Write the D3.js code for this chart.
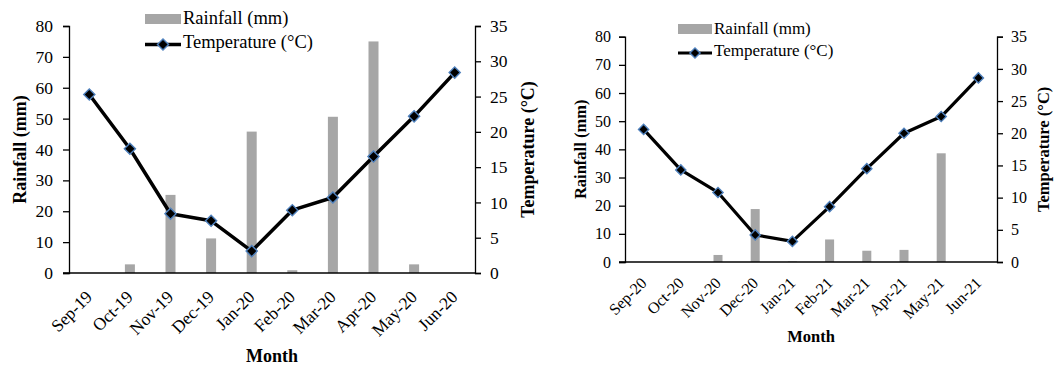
<!DOCTYPE html>
<html>
<head>
<meta charset="utf-8">
<title>Rainfall and temperature</title>
<style>
    html, body { margin: 0; background: #fff; }
    svg text { font-family: "Liberation Serif", "Times New Roman", serif; fill: #000; }
</style>
</head>
<body>
<svg id="chart" width="1054" height="366"></svg>
<script src="https://cdn.jsdelivr.net/npm/d3@7"></script>
<script>
"use strict";

// season 1 (Sep-19 .. Jun-20)
const months1 = ["Sep-19", "Oct-19", "Nov-19", "Dec-19", "Jan-20", "Feb-20", "Mar-20", "Apr-20", "May-20", "Jun-20"];
const rain1 = [0, 2.8, 25.3, 11.2, 45.8, 0.9, 50.6, 75, 2.8, 0];
const temp1 = [25.3, 17.6, 8.4, 7.4, 3.1, 8.9, 10.7, 16.5, 22.2, 28.4];

// season 2 (Sep-20 .. Jun-21)
const months2 = ["Sep-20", "Oct-20", "Nov-20", "Dec-20", "Jan-21", "Feb-21", "Mar-21", "Apr-21", "May-21", "Jun-21"];
const rain2 = [0, 0, 2.5, 18.8, 0.2, 8, 4, 4.3, 38.6, 0];
const temp2 = [20.6, 14.3, 10.8, 4.2, 3.2, 8.6, 14.5, 20, 22.6, 28.6];

const rainTicks = [0, 10, 20, 30, 40, 50, 60, 70, 80];
const tempTicks = [0, 5, 10, 15, 20, 25, 30, 35];

const svg = d3.select("#chart");

function drawChart(months, rain, temp, o) {
    const g = svg.append("g");
    const x = d3.scaleBand().domain(months).range([o.left, o.right]);
    const yRain = d3.scaleLinear().domain([0, 80]).range([o.bottom, o.top]);
    const yTemp = d3.scaleLinear().domain([0, 35]).range([o.bottom, o.top]);

    // bars
    g.append("g").selectAll("rect")
        .data(months)
        .join("rect")
        .attr("x", d => x(d) + x.bandwidth() / 2 - o.barW / 2)
        .attr("y", (d, i) => yRain(rain[i]))
        .attr("width", o.barW)
        .attr("height", (d, i) => yRain(0) - yRain(rain[i]))
        .attr("fill", "#a6a6a6");

    // axes
    const left = g.append("g")
        .attr("transform", `translate(${o.left},0)`)
        .call(d3.axisLeft(yRain).tickValues(rainTicks).tickSize(6).tickPadding(o.padL));
    const right = g.append("g")
        .attr("transform", `translate(${o.right},0)`)
        .call(d3.axisRight(yTemp).tickValues(tempTicks).tickSize(6).tickPadding(o.padR));
    [left, right].forEach(a => {
        a.select(".domain").attr("stroke", "#000").attr("stroke-width", 1.3);
        a.selectAll(".tick line").attr("stroke", "#000").attr("stroke-width", 1.3);
        a.selectAll(".tick text")
            .style("font-family", "Liberation Serif")
            .style("font-size", o.tickFs + "px")
            .attr("fill", "#000");
    });
    g.append("line")
        .attr("x1", o.left - 6).attr("x2", o.right)
        .attr("y1", o.bottom).attr("y2", o.bottom)
        .attr("stroke", "#000").attr("stroke-width", 1.3);

    // month labels
    g.append("g").selectAll("text")
        .data(months)
        .join("text")
        .attr("transform", d => `translate(${x(d) + x.bandwidth() / 2 + 4},${o.bottom + o.labDy}) rotate(-45)`)
        .attr("text-anchor", "end")
        .style("font-size", o.tickFs + "px")
        .text(d => d);

    // temperature line
    const line = d3.line()
        .x((d, i) => x(months[i]) + x.bandwidth() / 2)
        .y(d => yTemp(d));
    g.append("path")
        .datum(temp)
        .attr("d", line)
        .attr("fill", "none")
        .attr("stroke", "#000")
        .attr("stroke-width", o.lineW)
        .attr("stroke-linejoin", "round");

    const diamond = d3.symbol(d3.symbolSquare, o.markSize);
    g.append("g").selectAll("path")
        .data(temp)
        .join("path")
        .attr("d", diamond)
        .attr("transform", (d, i) => `translate(${x(months[i]) + x.bandwidth() / 2},${yTemp(d)}) rotate(45)`)
        .attr("fill", "#000")
        .attr("stroke", "#4f81bd")
        .attr("stroke-width", 1.4);

    // axis titles
    g.append("text")
        .attr("transform", `translate(${o.leftTitleX},${(o.top + o.bottom) / 2}) rotate(-90)`)
        .attr("text-anchor", "middle")
        .attr("dy", "0.35em")
        .style("font-size", o.titleFs + "px")
        .style("font-weight", "bold")
        .text("Rainfall (mm)");
    g.append("text")
        .attr("transform", `translate(${o.rightTitleX},${(o.top + o.bottom) / 2}) rotate(-90)`)
        .attr("text-anchor", "middle")
        .attr("dy", "0.35em")
        .style("font-size", o.titleFs + "px")
        .style("font-weight", "bold")
        .text("Temperature (°C)");
    g.append("text")
        .attr("x", (o.left + o.right) / 2)
        .attr("y", o.monthY)
        .attr("text-anchor", "middle")
        .style("font-size", o.titleFs + "px")
        .style("font-weight", "bold")
        .text("Month");

    // legend
    const lg = g.append("g");
    lg.append("rect")
        .attr("x", o.legX).attr("y", o.legY - 10)
        .attr("width", o.legW).attr("height", 10)
        .attr("fill", "#a6a6a6");
    lg.append("text")
        .attr("x", o.legX + o.legW + 2).attr("y", o.legY)
        .style("font-size", o.legFs + "px")
        .text("Rainfall (mm)");
    lg.append("line")
        .attr("x1", o.legX).attr("x2", o.legX + o.legW)
        .attr("y1", o.legY + o.legGap - 3).attr("y2", o.legY + o.legGap - 3)
        .attr("stroke", "#000").attr("stroke-width", o.lineW);
    lg.append("path")
        .attr("d", diamond)
        .attr("transform", `translate(${o.legX + o.legW / 2},${o.legY + o.legGap - 3}) rotate(45)`)
        .attr("fill", "#000")
        .attr("stroke", "#4f81bd")
        .attr("stroke-width", 1.4);
    lg.append("text")
        .attr("x", o.legX + o.legW + 2).attr("y", o.legY + o.legGap)
        .style("font-size", o.legFs + "px")
        .text("Temperature (°C)");
}

drawChart(months1, rain1, temp1, {
    left: 69, right: 475, top: 26, bottom: 273,
    barW: 10, lineW: 3.5, markSize: 62,
    tickFs: 17.5, titleFs: 18, legFs: 18.5, labDy: 25,
    padL: 10, padR: 9,
    leftTitleX: 20, rightTitleX: 528, monthY: 362,
    legX: 145, legY: 24, legW: 36, legGap: 23.5
});

drawChart(months2, rain2, temp2, {
    left: 625, right: 997, top: 36.7, bottom: 262,
    barW: 9, lineW: 3.2, markSize: 52,
    tickFs: 16, titleFs: 16.5, legFs: 17, labDy: 22,
    padL: 8, padR: 8,
    leftTitleX: 580, rightTitleX: 1043, monthY: 342,
    legX: 678, legY: 34, legW: 34, legGap: 22
});
</script>
</body>
</html>
